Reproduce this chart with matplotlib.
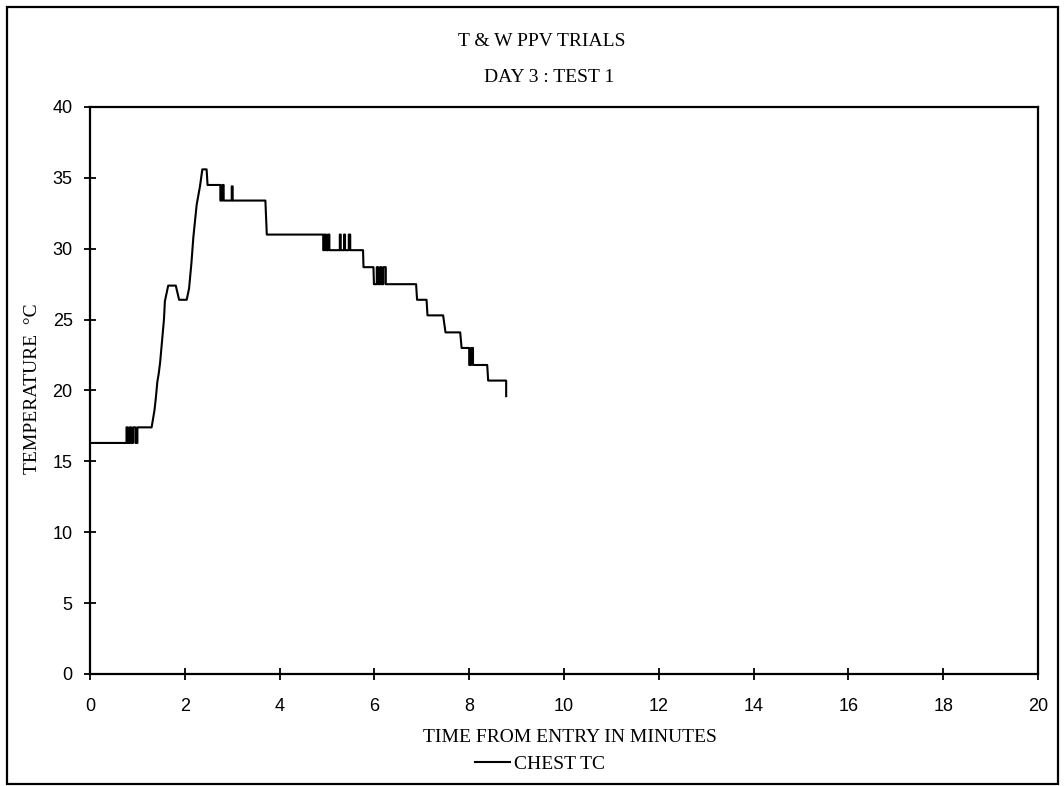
import matplotlib.pyplot as plt
from matplotlib.patches import Rectangle

# chest thermocouple reading, minutes from entry vs deg C
time_min = [
    # flat start and first flicker
    0.00, 0.77, 0.77, 0.80, 0.80, 0.84, 0.84, 0.87, 0.87, 0.91, 0.91,
    0.96, 0.96, 1.00, 1.00, 1.30,
    # rise to the peak
    1.36, 1.39, 1.42, 1.45, 1.48, 1.52, 1.56, 1.58, 1.65, 1.81, 1.88,
    2.04, 2.09, 2.14, 2.18, 2.25, 2.32, 2.37, 2.46, 2.48, 2.75,
    # plateau after peak
    2.75, 2.79, 2.79, 2.82, 2.82, 2.99, 2.99, 3.01, 3.01, 3.70, 3.73,
    # flicker around 30 C
    4.92, 4.92, 4.95, 4.95, 4.98, 4.98, 5.02, 5.02, 5.05, 5.05, 5.10,
    5.27, 5.27, 5.29, 5.29, 5.36, 5.36, 5.38, 5.38, 5.46, 5.46, 5.49,
    5.49, 5.76, 5.77,
    # cooling steps
    5.98, 5.99, 6.05, 6.05, 6.08, 6.08, 6.12, 6.12, 6.15, 6.15, 6.19,
    6.19, 6.24, 6.24, 6.88, 6.90, 7.10, 7.12, 7.45, 7.50, 7.81, 7.84,
    8.00, 8.00, 8.04, 8.04, 8.08, 8.08, 8.14, 8.38, 8.40, 8.78, 8.78,
]
chest_tc = [
    16.3, 16.3, 17.4, 17.4, 16.3, 16.3, 17.4, 17.4, 16.3, 16.3, 17.4,
    17.4, 16.3, 16.3, 17.4, 17.4,
    18.6, 19.5, 20.6, 21.2, 22.0, 23.5, 25.0, 26.3, 27.4, 27.4, 26.4,
    26.4, 27.2, 29.0, 30.8, 33.1, 34.4, 35.6, 35.6, 34.5, 34.5,
    33.4, 33.4, 34.5, 34.5, 33.4, 33.4, 34.4, 34.4, 33.4, 33.4, 31.0,
    31.0, 29.9, 29.9, 31.0, 31.0, 29.9, 29.9, 31.0, 31.0, 29.9, 29.9,
    29.9, 31.0, 31.0, 29.9, 29.9, 31.0, 31.0, 29.9, 29.9, 31.0, 31.0,
    29.9, 29.9, 28.7,
    28.7, 27.5, 27.5, 28.7, 28.7, 27.5, 27.5, 28.7, 28.7, 27.5, 27.5,
    28.7, 28.7, 27.5, 27.5, 26.4, 26.4, 25.3, 25.3, 24.1, 24.1, 23.0,
    23.0, 21.8, 21.8, 23.0, 23.0, 21.8, 21.8, 21.8, 20.7, 20.7, 19.6,
]

x_ticks = list(range(0, 21, 2))
y_ticks = list(range(0, 41, 5))

W, H = 1064, 786
fig = plt.figure(figsize=(W / 100, H / 100), dpi=100)
fig.patch.set_facecolor('white')
ax = fig.add_axes([90 / W, 1 - 674 / H, (1038 - 90) / W, (674 - 107) / H])

ax.plot(time_min, chest_tc, color='black', lw=1.5, label='CHEST TC')

ax.set_xlim(0, 20)
ax.set_ylim(0, 40)
ax.set_xticks(x_ticks)
ax.set_yticks(y_ticks)
for s in ax.spines.values():
    s.set_linewidth(1.6)
    s.set_color('black')
ax.tick_params(direction='inout', length=9, width=1.3, colors='black',
               labelsize=13)
ax.tick_params(axis='x', pad=13)
ax.tick_params(axis='y', pad=8)
for lab in ax.get_xticklabels() + ax.get_yticklabels():
    lab.set_fontfamily('Liberation Sans')

serif = dict(family='Liberation Serif', fontsize=14, color='black',
             ha='center', va='center')
fig.text(542 / W, 1 - 42 / H, 'T & W PPV TRIALS', **serif)
fig.text(549 / W, 1 - 78 / H, 'DAY 3 : TEST 1', **serif)
fig.text(570 / W, 1 - 738 / H, 'TIME FROM ENTRY IN MINUTES', **serif)
fig.text(33 / W, 1 - 389 / H, 'TEMPERATURE  \u00b0C', rotation=90, **serif)

fig.legend(loc='center', bbox_to_anchor=(540 / W, 1 - 764 / H),
           frameon=False, handlelength=1.8, handletextpad=0.2,
           prop={'family': 'Liberation Serif', 'size': 14})

# outer border around the whole sheet
fig.patches.append(Rectangle((7 / W, 2 / H), (1058 - 7) / W, (779 - 2) / H,
                             transform=fig.transFigure, fill=False,
                             edgecolor='black', lw=1.6))

fig.savefig('out.png', dpi=100)
